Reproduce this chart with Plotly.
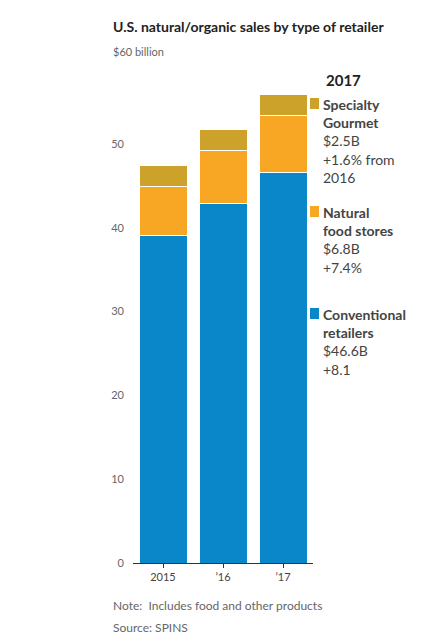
import plotly.graph_objects as go

years = ['2015', '’16', '’17']
conventional = [39.1, 42.9, 46.6]
natural = [5.8, 6.3, 6.8]
specialty = [2.5, 2.5, 2.5]
y_ticks = [0, 10, 20, 30, 40, 50]

blue = '#0a87c9'
orange = '#f7a724'
gold = '#cca22b'
font = 'Lato, Roboto, sans-serif'

# plot area in pixels: left 125, right 305, top 52, bottom 555
def px(x):
    return (x - 125) / 180

def py(y):
    return (555 - y) / 503

fig = go.Figure()
for name, vals, col in [('Conventional retailers', conventional, blue),
                        ('Natural food stores', natural, orange),
                        ('Specialty Gourmet', specialty, gold)]:
    fig.add_trace(go.Bar(x=years, y=vals, name=name, marker_color=col,
                         marker_line=dict(color='white', width=1)))

fig.update_layout(
    width=430, height=632, barmode='stack', bargap=0.2, showlegend=False,
    plot_bgcolor='white', paper_bgcolor='white',
    margin=dict(l=125, r=125, t=52, b=77),
    font=dict(family=font, size=11, color='#555'),
    xaxis=dict(showline=True, linecolor='#333', ticks='outside', ticklen=4,
               tickcolor='#333', tickfont=dict(size=11, color='#444')),
    yaxis=dict(range=[0, 60], tickvals=y_ticks, showgrid=False,
               tickfont=dict(size=11, color='#666'), ticklabelstandoff=8),
)

def note(x, y, text, size, color, anchor='middle'):
    fig.add_annotation(x=px(x), y=py(y), xref='paper', yref='paper',
                       xanchor='left', yanchor=anchor, align='left', showarrow=False,
                       text=text, font=dict(size=size, color=color))

note(103, 18, '<b>U.S. natural/organic sales by type of retailer</b>', 14, '#222')
note(103, 43, '$60 billion', 11, '#666')
note(103, 597, 'Note:  Includes food and other products', 12, '#666')
note(103, 619, 'Source: SPINS', 12, '#666')

# legend on the right
note(316, 72, '<b>2017</b>', 15, '#222')
entries = [(gold, 86, 'Specialty<br>Gourmet', '$2.5B<br>+1.6% from<br>2016'),
           (orange, 194, 'Natural<br>food stores', '$6.8B<br>+7.4%'),
           (blue, 296, 'Conventional<br>retailers', '$46.6B<br>+8.1')]
for col, top, head, body in entries:
    fig.add_shape(type='rect', xref='paper', yref='paper',
                  x0=px(302), x1=px(311), y0=py(top + 15), y1=py(top + 4),
                  fillcolor=col, line_width=0)
    note(313, top, f'<b>{head}</b><br>{body}', 14, '#444', anchor='top')

fig.write_html('out.html')
